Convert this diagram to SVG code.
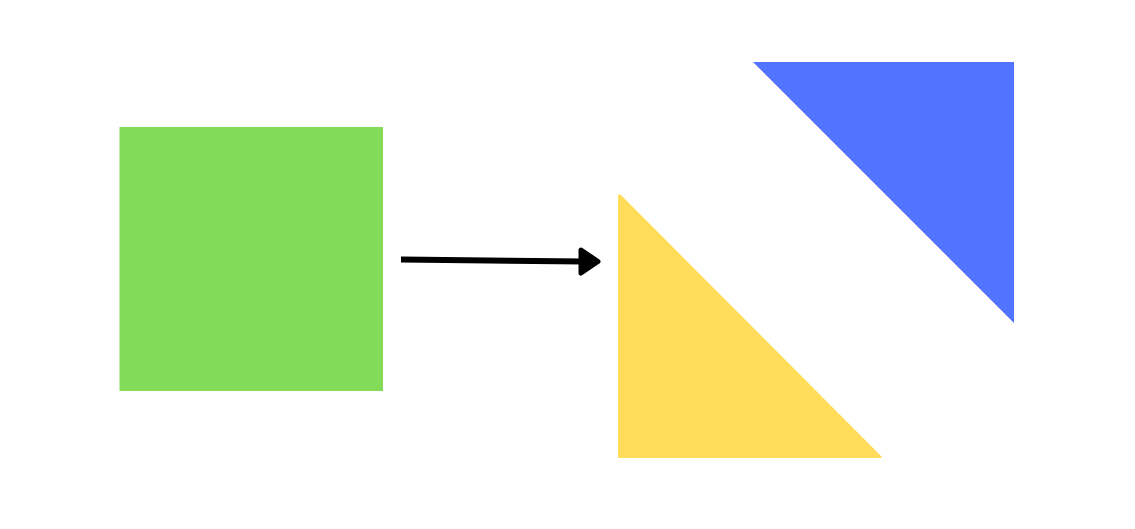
<svg xmlns="http://www.w3.org/2000/svg" width="1135" height="529" viewBox="0 0 1135 529">
<style>
.conn{stroke:#000;stroke-width:6;fill:none}
.head{fill:#000;stroke:#000;stroke-width:5;stroke-linejoin:round}
</style>
<rect width="1135" height="529" fill="#fff"/>
<g id="green-square"><rect x="119.5" y="127" width="263.5" height="264" fill="#82dc5a"/></g>
<g id="yellow-triangle"><path d="M618 195 Q619.5 193.5 621 195 L881 456 Q883 458 880 458 L618 458 Z" fill="#ffdd5a"/></g>
<g id="blue-triangle"><polygon points="753,62 1014,62 1014,323" fill="#5273ff"/></g>
<g id="connectors">
<line class="conn" x1="401" y1="259.5" x2="584" y2="261.5"/>
<path class="head" d="M581 250 L598 261.5 L581 273 Z"/>
</g>
</svg>
